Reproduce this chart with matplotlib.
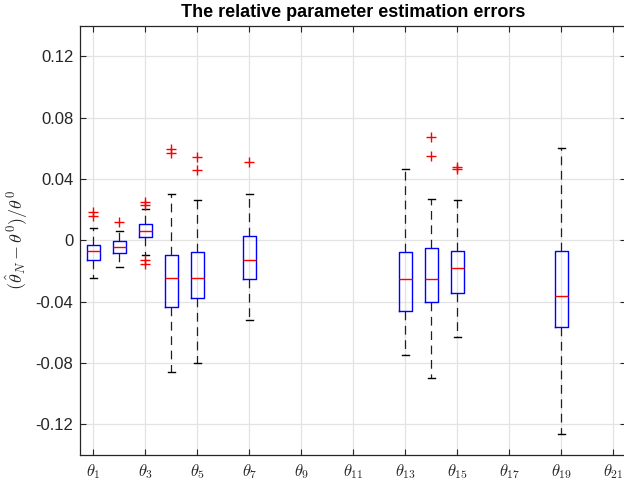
import matplotlib
matplotlib.use("Agg")
import matplotlib.pyplot as plt

plt.rcParams['font.family'] = ['Liberation Sans', 'DejaVu Sans']
plt.rcParams['mathtext.fontset'] = 'cm'

# Data
positions = [1, 2, 3, 4, 5, 7, 13, 14, 15, 19]
medians   = [-0.0070, -0.0046, 0.0061, -0.0246, -0.0248, -0.0130, -0.0250, -0.0250, -0.0181, -0.0363]
q1        = [-0.0128, -0.0081, 0.0020, -0.0435, -0.0378, -0.0252, -0.0461, -0.0402, -0.0342, -0.0564]
q3        = [-0.0029, -0.0007, 0.0108, -0.0096, -0.0078, 0.0028, -0.0076, -0.0052, -0.0068, -0.0068]
whis_lo   = [-0.0248, -0.0172, -0.0096, -0.0859, -0.0798, -0.0520, -0.0750, -0.0900, -0.0633, -0.1262]
whis_hi   = [0.0078, 0.0059, 0.0205, 0.0302, 0.0261, 0.0300, 0.0463, 0.0267, 0.0263, 0.0604]
outliers  = [
    [0.0187, 0.0159],
    [0.0117],
    [0.0250, 0.0232, -0.0128, -0.0152],
    [0.0594, 0.0568],
    [0.0541, 0.0459],
    [0.0513],
    [],
    [0.0676, 0.0552],
    [0.0480, 0.0465],
    [],
]
tick_positions = list(range(1, 22, 2))
tick_labels = [r'$\theta_{%d}$' % k for k in tick_positions]
ytick_values = [-0.12, -0.08, -0.04, 0, 0.04, 0.08, 0.12]
ytick_labels = ['-0.12', '-0.08', '-0.04', '0', '0.04', '0.08', '0.12']

fig = plt.figure(figsize=(6.24, 4.87), dpi=100)
ax = fig.add_axes([0.1287, 0.0659, 0.875, 0.8813])

stats = []
for i in range(len(positions)):
    stats.append(dict(med=medians[i], q1=q1[i], q3=q3[i],
                      whislo=whis_lo[i], whishi=whis_hi[i],
                      fliers=outliers[i]))

ax.bxp(stats, positions=positions, widths=0.5, capwidths=0.25,
       showfliers=True, patch_artist=False,
       boxprops=dict(color='#0000ff', linewidth=1.0),
       medianprops=dict(color='#ff0000', linewidth=1.0),
       whiskerprops=dict(color='#202020', linewidth=0.9, linestyle=(0, (7, 4.5))),
       capprops=dict(color='black', linewidth=1.0),
       flierprops=dict(marker='+', markeredgecolor='#ff0000', markersize=7,
                       markeredgewidth=1.0, linestyle='none'))

ax.set_xlim(0.5, 21.5)
ax.set_ylim(-0.14, 0.14)
ax.set_xticks(tick_positions)
ax.set_xticklabels(tick_labels, fontsize=12)
ax.set_yticks(ytick_values)
ax.set_yticklabels(ytick_labels, fontsize=12)
ax.grid(True, color='#e3e3e3', linewidth=0.9)
ax.set_axisbelow(True)
ax.tick_params(direction='in', top=True, right=True, length=4, width=0.8,
               colors='#262626', labelcolor='#262626')
ax.tick_params(axis='x', pad=5)
ax.tick_params(axis='y', pad=5)
for sp in ax.spines.values():
    sp.set_color('#262626')
    sp.set_linewidth(0.9)

ax.set_ylabel(r'$(\hat{\theta}_N-\theta^0)/\theta^0$', fontsize=13, color='#262626')
ax.set_title('The relative parameter estimation errors', fontsize=13,
             fontweight='bold', color='black', pad=6)

fig.savefig('out.png', dpi=100)
